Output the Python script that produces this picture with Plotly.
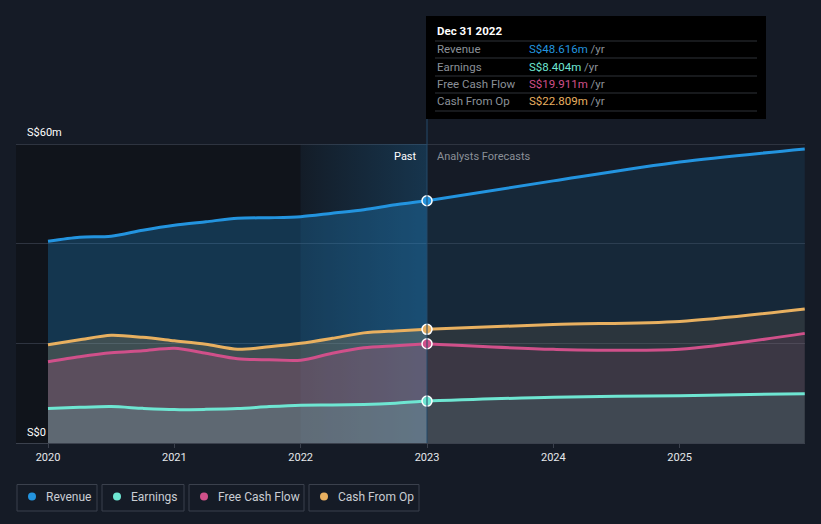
import plotly.graph_objects as go

# ---------------- data ----------------
past_x = [2020.0, 2020.25, 2020.5, 2020.75, 2021.0, 2021.25, 2021.5, 2021.75,
          2022.0, 2022.25, 2022.5, 2022.75, 2023.0]
revenue_past = [40.5, 41.3, 41.5, 42.7, 43.7, 44.4, 45.1, 45.2, 45.4, 46.1, 46.8, 47.8, 48.616]
earnings_past = [6.9, 7.15, 7.3, 6.95, 6.7, 6.75, 6.9, 7.3, 7.6, 7.65, 7.75, 8.0, 8.404]
fcf_past = [16.3, 17.3, 18.1, 18.5, 19.0, 18.0, 16.9, 16.7, 16.6, 18.0, 19.1, 19.5, 19.911]
cfo_past = [19.7, 20.7, 21.6, 21.2, 20.5, 19.8, 18.8, 19.3, 20.0, 21.0, 22.1, 22.5, 22.809]

fc_x = [2023.0, 2024.0, 2025.0, 2025.99]
revenue_fc = [48.616, 52.6, 56.4, 59.0]
earnings_fc = [8.404, 9.2, 9.5, 9.9]
fcf_fc = [19.911, 18.8, 18.8, 22.0]
cfo_fc = [22.809, 23.8, 24.4, 26.9]

series_names = ["Revenue", "Earnings", "Free Cash Flow", "Cash From Op"]
series_colors = ["#2394df", "#6ee6d2", "#d0508a", "#e8b060"]
tooltip_date = "Dec 31 2022"
tick_years = [2020, 2021, 2022, 2023, 2024, 2025]
y_labels = ["S$0", "S$60m"]

# ---------------- layout constants ----------------
W, H = 821, 524
ML, MR, MT, MB = 16, 16, 10, 81
X_RANGE = [2019.7467, 2025.992]
Y_MAX_LABEL = 60
PX_PER_UNIT = 299 / 60
Y_RANGE = [0, (H - MT - MB) / PX_PER_UNIT]
BG = "#151b26"
DARK = "#10141b"
GRID = "#2e3440"

def rgba(hexc, a):
    h = hexc.lstrip("#")
    return "rgba(%d,%d,%d,%.3f)" % (int(h[0:2], 16), int(h[2:4], 16), int(h[4:6], 16), a)

def px2paper_x(px):
    return (px - ML) / (W - ML - MR)

def px2paper_y(py):
    return (H - MB - py) / (H - MT - MB)

def data2paper_x(x):
    return (x - X_RANGE[0]) / (X_RANGE[1] - X_RANGE[0])

fig = go.Figure()

past = {"Revenue": revenue_past, "Earnings": earnings_past,
        "Free Cash Flow": fcf_past, "Cash From Op": cfo_past}
fc = {"Revenue": revenue_fc, "Earnings": earnings_fc,
      "Free Cash Flow": fcf_fc, "Cash From Op": cfo_fc}
colors = dict(zip(series_names, series_colors))
past_alpha = {"Revenue": 0.27, "Cash From Op": 0.2, "Free Cash Flow": 0.2, "Earnings": 0.18}
fc_alpha = {"Revenue": 0.11, "Cash From Op": 0.1, "Free Cash Flow": 0.1, "Earnings": 0.1}

# highlighted gradient band: last year of the past period
b1 = past_x[-1]
b0 = b1 - 1.0
fig.add_trace(go.Scatter(
    x=[b0, b1, b1, b0, b0], y=[0, 0, Y_MAX_LABEL, Y_MAX_LABEL, 0],
    mode="none", fill="toself",
    fillgradient=dict(type="horizontal",
                      colorscale=[[0, "rgba(35,148,223,0.02)"], [1, "rgba(35,148,223,0.22)"]]),
    hoverinfo="skip", showlegend=False))

draw_order = ["Revenue", "Cash From Op", "Free Cash Flow", "Earnings"]
for name in draw_order:
    c = colors[name]
    fig.add_trace(go.Scatter(
        x=past_x, y=past[name], mode="lines", line=dict(color=c, width=3, shape="spline", smoothing=0.8),
        fill="tozeroy", fillcolor=rgba(c, past_alpha[name]), hoverinfo="skip", showlegend=False))
    fig.add_trace(go.Scatter(
        x=fc_x, y=fc[name], mode="lines", line=dict(color=c, width=3, shape="spline", smoothing=0.8),
        fill="tozeroy", fillcolor=rgba(c, fc_alpha[name]), hoverinfo="skip", showlegend=False))

for name in draw_order:
    c = colors[name]
    fig.add_trace(go.Scatter(
        x=[past_x[-1]], y=[past[name][-1]], mode="markers",
        marker=dict(color=c, size=10, line=dict(color="#ffffff", width=1.5)),
        hoverinfo="skip", showlegend=False))

shapes = []
# dark past region
shapes.append(dict(type="rect", xref="paper", yref="y", x0=0, x1=data2paper_x(b0),
                   y0=0, y1=Y_MAX_LABEL, fillcolor=DARK, line=dict(width=0), layer="below"))
shapes.append(dict(type="rect", xref="x", yref="y", x0=b0, x1=b1, y0=0, y1=Y_MAX_LABEL,
                   fillcolor="#131a24", line=dict(width=0), layer="below"))
# vertical marker line
shapes.append(dict(type="line", xref="paper", yref="paper",
                   x0=data2paper_x(past_x[-1]), x1=data2paper_x(past_x[-1]),
                   y0=0, y1=px2paper_y(16), line=dict(color="#244a6b", width=1)))
# tooltip box
tx0, tx1, ty0, ty1 = 426, 766, 16, 119
shapes.append(dict(type="rect", xref="paper", yref="paper",
                   x0=px2paper_x(tx0), x1=px2paper_x(tx1), y0=px2paper_y(ty1), y1=px2paper_y(ty0),
                   fillcolor="#000000", line=dict(width=0)))
for sy in [41, 58, 76, 93, 111]:
    shapes.append(dict(type="line", xref="paper", yref="paper",
                       x0=px2paper_x(435), x1=px2paper_x(757), y0=px2paper_y(sy), y1=px2paper_y(sy),
                       line=dict(color="#2f3338", width=1)))

annotations = []
annotations.append(dict(xref="paper", yref="paper", x=px2paper_x(435), y=px2paper_y(31),
                        text="<b>" + tooltip_date + "</b>", showarrow=False, xanchor="left", yanchor="middle",
                        font=dict(color="#ffffff", size=11.5, family="Roboto")))
values = {"Revenue": revenue_past[-1], "Earnings": earnings_past[-1],
          "Free Cash Flow": fcf_past[-1], "Cash From Op": cfo_past[-1]}
for name, ry in zip(series_names, [49.5, 67, 84.5, 101.5]):
    annotations.append(dict(xref="paper", yref="paper", x=px2paper_x(435), y=px2paper_y(ry),
                            text=name, showarrow=False, xanchor="left", yanchor="middle",
                            font=dict(color="#8b9098", size=11.5, family="Roboto")))
    annotations.append(dict(xref="paper", yref="paper", x=px2paper_x(527), y=px2paper_y(ry),
                            text="<span style='color:%s'>S$%.3fm</span> /yr" % (colors[name], values[name]),
                            showarrow=False, xanchor="left", yanchor="middle",
                            font=dict(color="#8b9098", size=11.5, family="Roboto")))

# Past / Forecast labels
annotations.append(dict(xref="paper", yref="paper", x=px2paper_x(419), y=px2paper_y(156),
                        text="Past", showarrow=False, xanchor="right", yanchor="middle",
                        font=dict(color="#ffffff", size=11, family="Roboto")))
annotations.append(dict(xref="paper", yref="paper", x=px2paper_x(435), y=px2paper_y(156),
                        text="Analysts Forecasts", showarrow=False, xanchor="left", yanchor="middle",
                        font=dict(color="#8b9098", size=11, family="Roboto")))
# y labels
annotations.append(dict(xref="paper", yref="paper", x=px2paper_x(25), y=px2paper_y(132),
                        text=y_labels[1], showarrow=False, xanchor="left", yanchor="middle",
                        font=dict(color="#ffffff", size=11, family="Roboto")))
annotations.append(dict(xref="paper", yref="paper", x=px2paper_x(25), y=px2paper_y(432),
                        text=y_labels[0], showarrow=False, xanchor="left", yanchor="middle",
                        font=dict(color="#ffffff", size=11, family="Roboto")))

# custom legend
boxes = [(17, 97), (102, 184), (189, 304), (309, 419)]
for (bx0, bx1), name in zip(boxes, series_names):
    shapes.append(dict(type="rect", xref="paper", yref="paper",
                       x0=px2paper_x(bx0), x1=px2paper_x(bx1), y0=px2paper_y(511), y1=px2paper_y(484.5),
                       line=dict(color="#3b414d", width=1), fillcolor=BG))
    shapes.append(dict(type="circle", xref="paper", yref="paper",
                       x0=px2paper_x(bx0 + 11), x1=px2paper_x(bx0 + 19),
                       y0=px2paper_y(500.5), y1=px2paper_y(492.5),
                       line=dict(width=0), fillcolor=colors[name]))
    annotations.append(dict(xref="paper", yref="paper", x=px2paper_x(bx0 + 27), y=px2paper_y(496.5),
                            text=name, showarrow=False, xanchor="left", yanchor="middle",
                            font=dict(color="#c9cdd3", size=12, family="Roboto")))

fig.update_layout(
    width=W, height=H, margin=dict(l=ML, r=MR, t=MT, b=MB),
    paper_bgcolor=BG, plot_bgcolor=BG,
    shapes=shapes, annotations=annotations, showlegend=False,
    xaxis=dict(range=X_RANGE, tickvals=tick_years, ticktext=[str(t) for t in tick_years],
               showgrid=False, zeroline=False, showline=True, linecolor="#3b414d", linewidth=1,
               ticks="outside", ticklen=4, tickcolor="#3b414d",
               tickfont=dict(color="#e6e8eb", size=11, family="Roboto"), fixedrange=True),
    yaxis=dict(range=Y_RANGE, tickvals=[20, 40, 60], showticklabels=False,
               showgrid=True, gridcolor=GRID, gridwidth=1, zeroline=False, fixedrange=True),
)

fig.write_html("out.html", config={"displayModeBar": False},
               post_script="document.body.style.margin='0';document.body.style.padding='0';"
                           "document.body.style.background='%s';" % BG)
